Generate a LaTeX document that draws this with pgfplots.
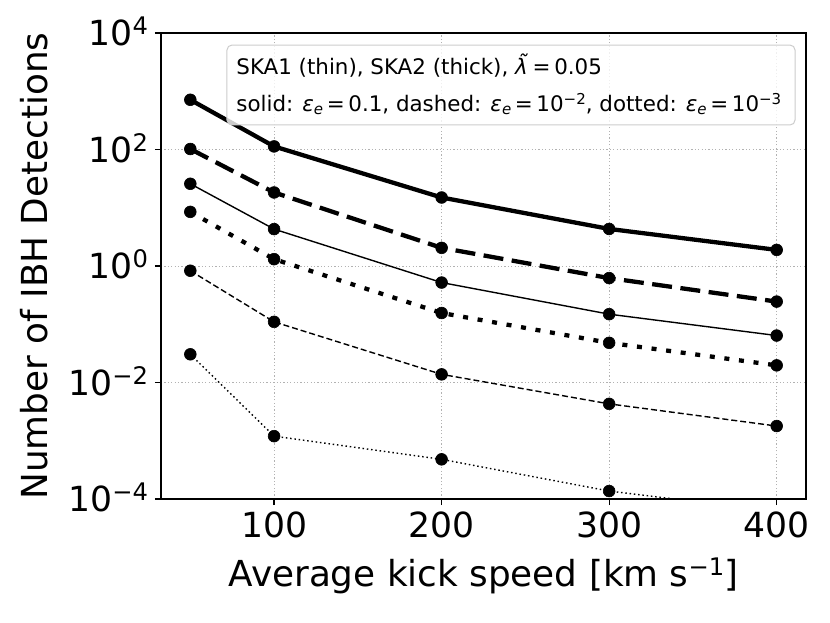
\documentclass[border=0pt]{standalone}
\usepackage{fontspec}
\setmainfont{DejaVu Sans}
\usepackage{pgfplots}
\pgfplotsset{compat=1.18}
\newcommand\sups[1]{\raisebox{5.5pt}{\fontsize{12.1}{12}\selectfont #1}}
\newcommand\lsup[1]{\raisebox{3.4pt}{\fontsize{7.5}{8}\selectfont #1}}
\newcommand\epse{\textit{ε}\raisebox{-1.6pt}{\fontsize{7.5}{8}\selectfont\textit{e}}}
\newcommand\eq{\kern.17em=\kern.17em}
\begin{document}
\begin{tikzpicture}
\begin{axis}[
  at={(0pt,0pt)}, anchor=south west,
  scale only axis, width=322.5pt, height=233pt,
  xmin=32.5, xmax=417.5,
  ymode=log, ymin=1e-4, ymax=1e4,
  xtick={100,200,300,400},
  ytick={1e-4,1e-2,1,1e2,1e4},
  yticklabels={10\sups{−4},10\sups{−2},10\sups{0},10\sups{2},10\sups{4}},
  minor tick num=0, yminorticks=false,
  /pgf/number format/assume math mode=true,
  tick align=outside, tick pos=left, major tick length=3pt,
  tick style={black, line width=0.6pt},
  axis line style={line width=0.7pt},
  grid=major,
  major grid style={draw=black!30, line width=0.5pt, dash pattern=on 0.6pt off 1.1pt},
  tick label style={font=\fontsize{17.3}{20}\selectfont},
  label style={font=\fontsize{17.9}{20}\selectfont},
  xticklabel style={anchor=base, yshift=-16pt},
  yticklabel style={anchor=base east, yshift=-6.3pt},
  xlabel={Average kick speed [km s\sups{−1}]},
  ylabel={Number of IBH Detections},
  xlabel style={at={(axis description cs:0.5,-0.1867)}, anchor=base},
  ylabel style={at={(axis description cs:-0.1752,0.5)}, anchor=base, rotate=0},
  every axis plot/.append style={black, mark=*, mark size=2.95pt, mark options={solid, line width=0.3pt, fill=black}},
]
% SKA2 (thick)
\addplot[line width=2.15pt] coordinates {(50,714) (100,113) (200,15.0) (300,4.33) (400,1.89)};
\addplot[line width=2.15pt, dash pattern=on 10pt off 4.25pt] coordinates {(50,102) (100,18.3) (200,2.05) (300,0.62) (400,0.245)};
\addplot[line width=2.15pt, dash pattern=on 2.5pt off 4.85pt] coordinates {(50,8.5) (100,1.31) (200,0.156) (300,0.048) (400,0.0197)};
% SKA1 (thin)
\addplot[line width=0.7pt] coordinates {(50,25.8) (100,4.3) (200,0.52) (300,0.149) (400,0.064)};
\addplot[line width=0.7pt, dash pattern=on 3pt off 1.5pt] coordinates {(50,0.83) (100,0.11) (200,0.0138) (300,0.0043) (400,0.00179)};
\addplot[line width=0.7pt, dash pattern=on 0.75pt off 1.4pt] coordinates {(50,0.0305) (100,0.0012) (200,0.00048) (300,0.000137) (400,0.000061)};
% annotation box
\draw[draw=black!20, line width=0.5pt, fill=white, fill opacity=0.8, rounded corners=2.5pt]
  (rel axis cs:0.1023,0.8026) rectangle (rel axis cs:0.983,0.9742);
\node[anchor=base west, inner sep=0pt, font=\fontsize{10.7}{12}\selectfont] at (rel axis cs:0.1163,0.9105)
  {SKA1 (thin), SKA2 (thick), \textit{λ̃}\eq0.05};
\node[anchor=base west, inner sep=0pt, font=\fontsize{10.7}{12}\selectfont] at (rel axis cs:0.1163,0.8326)
  {solid: \epse\eq0.1, dashed: \epse\eq10\lsup{−2}, dotted: \epse\eq10\lsup{−3}};
\end{axis}
\pgfresetboundingbox
\useasboundingbox (-80.5pt,-61.5pt) rectangle (334.5pt,249.5pt);
\end{tikzpicture}
\end{document}
